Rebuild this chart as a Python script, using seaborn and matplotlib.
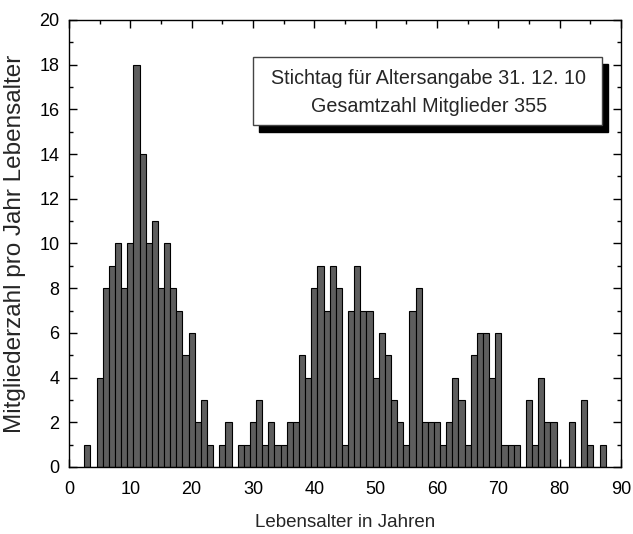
import matplotlib
matplotlib.use("Agg")
import matplotlib.pyplot as plt
from matplotlib.patches import Rectangle
from matplotlib.ticker import MultipleLocator
import seaborn as sns
import pandas as pd

# ---- data ----
ages = list(range(3, 88))
members = [1, 0, 4, 8, 9, 10, 8, 10,            # 3-10
           18, 14, 10, 11, 8, 10, 8, 7, 5, 6,   # 11-20
           2, 3, 1, 0, 1, 2, 0, 1, 1, 2,        # 21-30
           3, 1, 2, 1, 1, 2, 2, 5, 4, 8,        # 31-40
           9, 7, 9, 8, 1, 7, 9, 7, 7, 4,        # 41-50
           6, 5, 3, 2, 1, 7, 8, 2, 2, 2,        # 51-60
           1, 2, 4, 3, 1, 5, 6, 6, 4, 6,        # 61-70
           1, 1, 1, 0, 3, 1, 4, 2, 2, 0,        # 71-80
           0, 2, 0, 3, 1, 0, 1]                 # 81-87
info_lines = ["Stichtag für Altersangabe 31. 12. 10",
              "Gesamtzahl Mitglieder 355"]
xlabel = "Lebensalter in Jahren"
ylabel = "Mitgliederzahl pro Jahr Lebensalter"

df = pd.DataFrame({"Alter": ages, "Anzahl": members})

sns.set_style("ticks")
plt.rcParams["font.family"] = ["Liberation Sans", "DejaVu Sans"]

fig = plt.figure(figsize=(6.33, 5.34), dpi=100)
ax = fig.add_axes([0.1090, 0.1255, 0.8720, 0.8371])

sns.barplot(data=df, x="Alter", y="Anzahl", native_scale=True, width=1.0,
            color="#5e5e5e", saturation=1, edgecolor="black", linewidth=0.8,
            errorbar=None, ax=ax, zorder=2)

ax.set_xlim(0, 90)
ax.set_ylim(0, 20)
ax.xaxis.set_major_locator(MultipleLocator(10))
ax.xaxis.set_minor_locator(MultipleLocator(5))
ax.yaxis.set_major_locator(MultipleLocator(2))
ax.yaxis.set_minor_locator(MultipleLocator(1))
ax.tick_params(which="both", direction="in", top=True, right=True,
               labelsize=13, width=1.0, colors="black", zorder=5)
ax.tick_params(which="major", length=6)
ax.tick_params(which="minor", length=3)
ax.tick_params(axis="x", which="major", pad=10)
ax.tick_params(axis="y", which="major", pad=7)
for s in ax.spines.values():
    s.set_visible(True)
    s.set_linewidth(1.0)
    s.set_color("black")
    s.set_zorder(6)

ax.set_xlabel(xlabel, fontsize=13.5)
ax.set_ylabel(ylabel, fontsize=17.5)
ax.xaxis.set_label_coords(0.5, -0.105)
ax.yaxis.set_label_coords(-0.078, 0.5)

# info box with drop shadow (axes coordinates)
bx0, by0, bw, bh = 0.3333, 0.7651, 0.6323, 0.1521
ax.add_patch(Rectangle((bx0 + 0.0109, by0 - 0.0157), bw, bh, transform=ax.transAxes,
                       facecolor="black", edgecolor="black", zorder=7, clip_on=False))
ax.add_patch(Rectangle((bx0, by0), bw, bh, transform=ax.transAxes,
                       facecolor="white", edgecolor="#444444", linewidth=1.0,
                       zorder=8, clip_on=False))
ax.text(0.652, 0.8696, info_lines[0], transform=ax.transAxes, ha="center",
        va="center", fontsize=14.2, zorder=9)
ax.text(0.652, 0.806, info_lines[1], transform=ax.transAxes, ha="center",
        va="center", fontsize=14.2, zorder=9)

fig.savefig("out.png", dpi=100)
